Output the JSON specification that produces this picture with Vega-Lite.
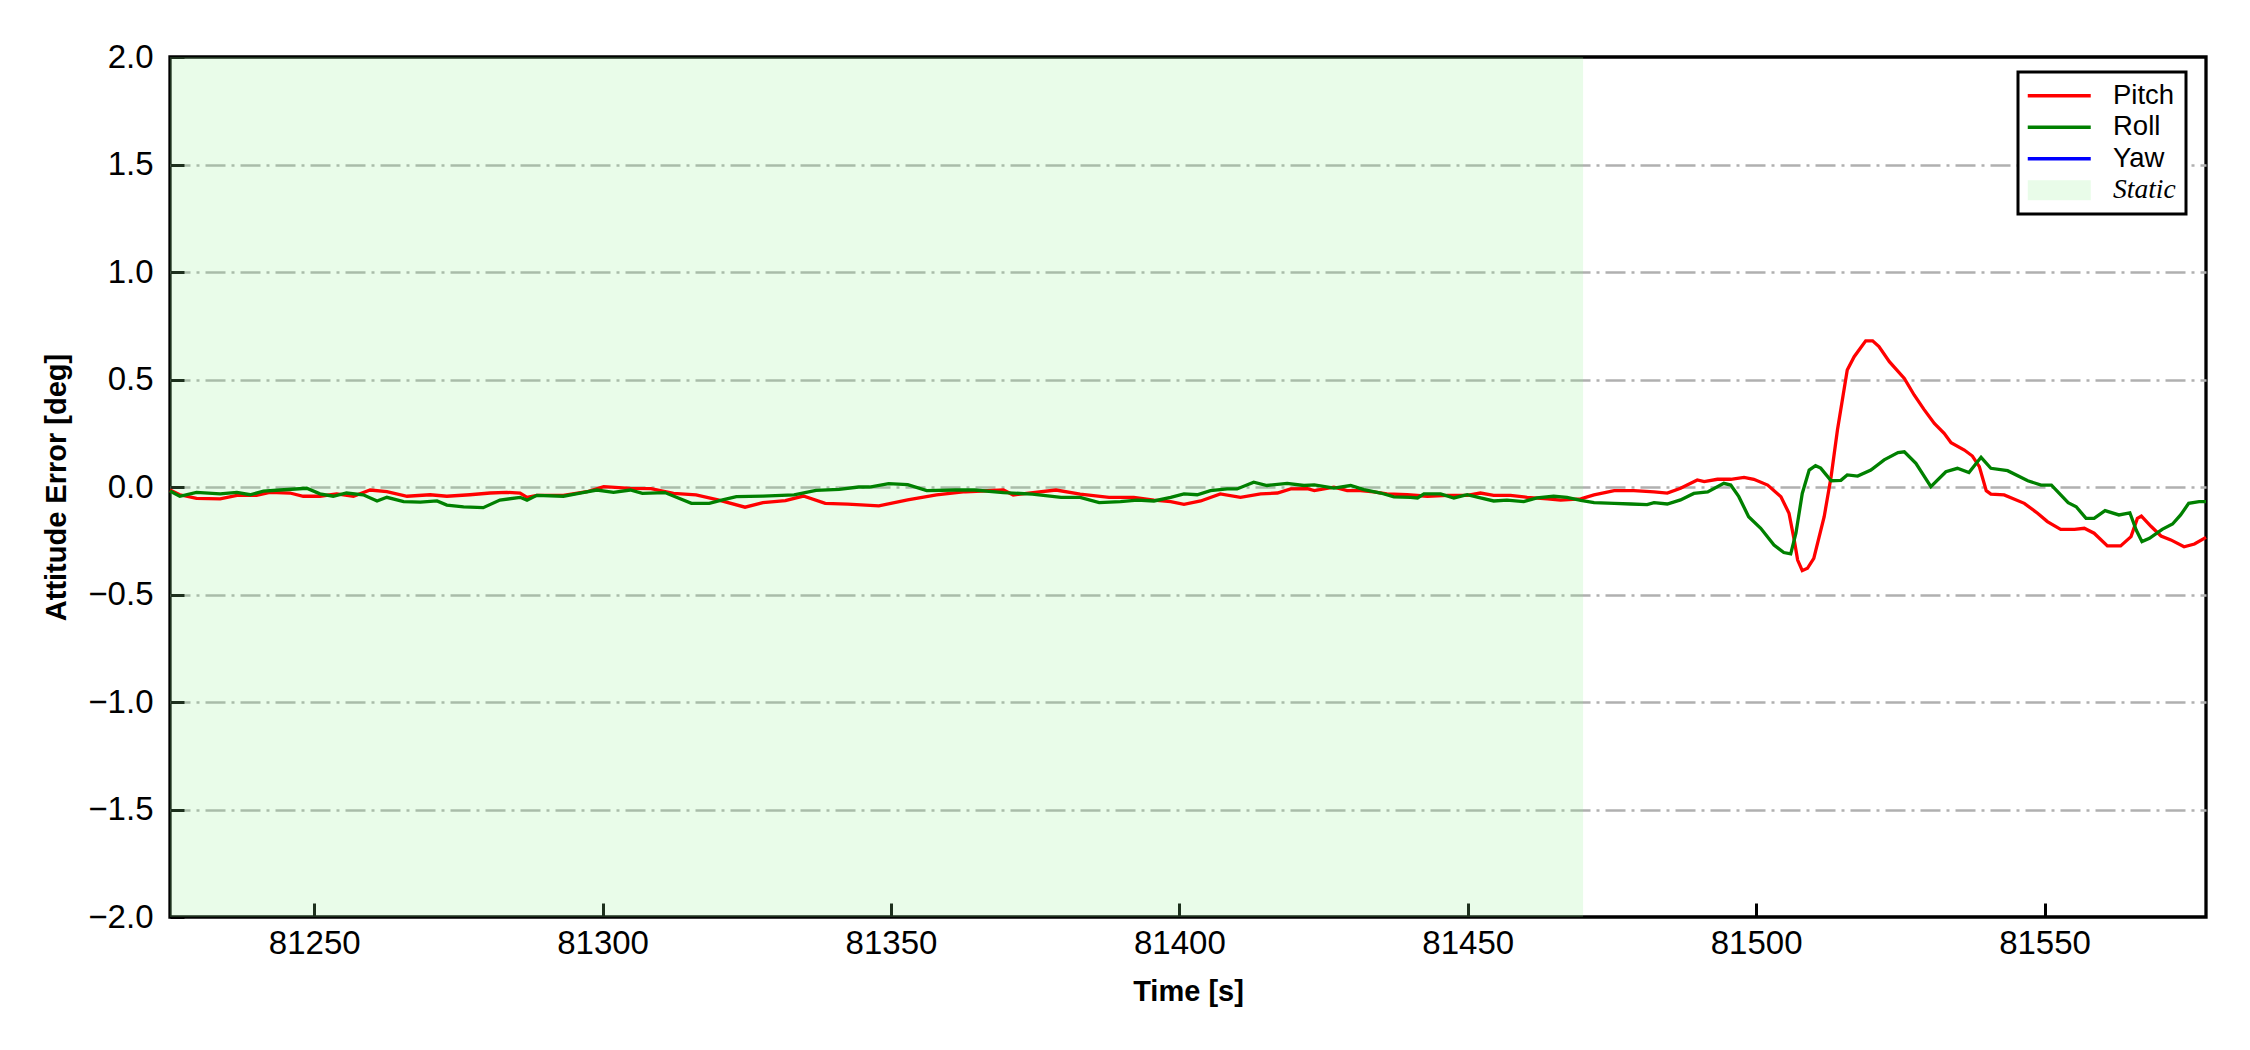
{
  "$schema": "https://vega.github.io/schema/vega-lite/v6.json",
  "width": 2036,
  "height": 860,
  "autosize": {"type": "none"},
  "padding": {"left": 170, "top": 57, "right": 44, "bottom": 133},
  "background": "white",
  "config": {
    "font": "Liberation Sans",
    "view": {"stroke": "black", "strokeWidth": 3.3}
  },
  "datasets": {
    "spans": [{"start": 81225, "end": 81470, "s": "Static"}],
    "series": [
      {"t":81225.0,"s":"Pitch","v":-0.014},{"t":81226.7,"s":"Pitch","v":-0.036},{"t":81229.6,"s":"Pitch","v":-0.053},{"t":81233.7,"s":"Pitch","v":-0.055},{"t":81236.6,"s":"Pitch","v":-0.039},{"t":81240.0,"s":"Pitch","v":-0.039},{"t":81242.3,"s":"Pitch","v":-0.025},{"t":81245.8,"s":"Pitch","v":-0.028},{"t":81248.1,"s":"Pitch","v":-0.043},{"t":81251.0,"s":"Pitch","v":-0.043},{"t":81253.9,"s":"Pitch","v":-0.032},{"t":81256.8,"s":"Pitch","v":-0.043},{"t":81259.7,"s":"Pitch","v":-0.014},{"t":81262.6,"s":"Pitch","v":-0.022},{"t":81266.1,"s":"Pitch","v":-0.043},{"t":81270.1,"s":"Pitch","v":-0.036},{"t":81273.0,"s":"Pitch","v":-0.043},{"t":81277.0,"s":"Pitch","v":-0.036},{"t":81280.5,"s":"Pitch","v":-0.028},{"t":81283.4,"s":"Pitch","v":-0.025},{"t":81285.7,"s":"Pitch","v":-0.028},{"t":81286.9,"s":"Pitch","v":-0.048},{"t":81288.6,"s":"Pitch","v":-0.039},{"t":81293.2,"s":"Pitch","v":-0.039},{"t":81297.3,"s":"Pitch","v":-0.022},{"t":81300.2,"s":"Pitch","v":0.002},{"t":81304.8,"s":"Pitch","v":-0.006},{"t":81308.4,"s":"Pitch","v":-0.008},{"t":81312.3,"s":"Pitch","v":-0.030},{"t":81316.2,"s":"Pitch","v":-0.037},{"t":81320.0,"s":"Pitch","v":-0.060},{"t":81324.7,"s":"Pitch","v":-0.094},{"t":81327.8,"s":"Pitch","v":-0.073},{"t":81331.7,"s":"Pitch","v":-0.063},{"t":81334.8,"s":"Pitch","v":-0.042},{"t":81338.6,"s":"Pitch","v":-0.076},{"t":81342.5,"s":"Pitch","v":-0.080},{"t":81347.9,"s":"Pitch","v":-0.088},{"t":81352.9,"s":"Pitch","v":-0.060},{"t":81357.9,"s":"Pitch","v":-0.037},{"t":81362.9,"s":"Pitch","v":-0.022},{"t":81369.5,"s":"Pitch","v":-0.014},{"t":81371.2,"s":"Pitch","v":-0.037},{"t":81378.6,"s":"Pitch","v":-0.014},{"t":81382.8,"s":"Pitch","v":-0.033},{"t":81387.8,"s":"Pitch","v":-0.048},{"t":81392.1,"s":"Pitch","v":-0.048},{"t":81395.6,"s":"Pitch","v":-0.061},{"t":81398.5,"s":"Pitch","v":-0.068},{"t":81400.8,"s":"Pitch","v":-0.081},{"t":81403.7,"s":"Pitch","v":-0.065},{"t":81407.1,"s":"Pitch","v":-0.032},{"t":81410.6,"s":"Pitch","v":-0.048},{"t":81414.1,"s":"Pitch","v":-0.032},{"t":81417.0,"s":"Pitch","v":-0.028},{"t":81419.3,"s":"Pitch","v":-0.009},{"t":81422.2,"s":"Pitch","v":-0.008},{"t":81423.4,"s":"Pitch","v":-0.017},{"t":81426.8,"s":"Pitch","v":-0.001},{"t":81429.1,"s":"Pitch","v":-0.017},{"t":81431.4,"s":"Pitch","v":-0.017},{"t":81433.7,"s":"Pitch","v":-0.023},{"t":81436.0,"s":"Pitch","v":-0.032},{"t":81439.5,"s":"Pitch","v":-0.036},{"t":81443.0,"s":"Pitch","v":-0.043},{"t":81446.5,"s":"Pitch","v":-0.039},{"t":81449.9,"s":"Pitch","v":-0.039},{"t":81452.2,"s":"Pitch","v":-0.028},{"t":81454.5,"s":"Pitch","v":-0.039},{"t":81457.4,"s":"Pitch","v":-0.039},{"t":81460.3,"s":"Pitch","v":-0.048},{"t":81463.8,"s":"Pitch","v":-0.055},{"t":81466.1,"s":"Pitch","v":-0.061},{"t":81469.6,"s":"Pitch","v":-0.055},{"t":81471.9,"s":"Pitch","v":-0.037},{"t":81475.4,"s":"Pitch","v":-0.017},{"t":81478.8,"s":"Pitch","v":-0.017},{"t":81482.3,"s":"Pitch","v":-0.023},{"t":81484.6,"s":"Pitch","v":-0.028},{"t":81486.9,"s":"Pitch","v":-0.006},{"t":81489.8,"s":"Pitch","v":0.033},{"t":81491.0,"s":"Pitch","v":0.025},{"t":81493.3,"s":"Pitch","v":0.036},{"t":81495.6,"s":"Pitch","v":0.036},{"t":81497.9,"s":"Pitch","v":0.045},{"t":81499.6,"s":"Pitch","v":0.036},{"t":81502.0,"s":"Pitch","v":0.009},{"t":81504.3,"s":"Pitch","v":-0.045},{"t":81505.7,"s":"Pitch","v":-0.122},{"t":81506.6,"s":"Pitch","v":-0.246},{"t":81507.2,"s":"Pitch","v":-0.340},{"t":81508.0,"s":"Pitch","v":-0.389},{"t":81508.9,"s":"Pitch","v":-0.378},{"t":81510.0,"s":"Pitch","v":-0.332},{"t":81511.8,"s":"Pitch","v":-0.138},{"t":81513.0,"s":"Pitch","v":0.048},{"t":81514.1,"s":"Pitch","v":0.265},{"t":81515.8,"s":"Pitch","v":0.544},{"t":81517.0,"s":"Pitch","v":0.606},{"t":81519.0,"s":"Pitch","v":0.680},{"t":81520.2,"s":"Pitch","v":0.680},{"t":81521.3,"s":"Pitch","v":0.653},{"t":81523.1,"s":"Pitch","v":0.583},{"t":81525.7,"s":"Pitch","v":0.505},{"t":81527.4,"s":"Pitch","v":0.428},{"t":81529.1,"s":"Pitch","v":0.361},{"t":81530.9,"s":"Pitch","v":0.296},{"t":81532.6,"s":"Pitch","v":0.250},{"t":81533.8,"s":"Pitch","v":0.206},{"t":81536.1,"s":"Pitch","v":0.172},{"t":81537.5,"s":"Pitch","v":0.144},{"t":81538.7,"s":"Pitch","v":0.095},{"t":81539.9,"s":"Pitch","v":-0.017},{"t":81540.7,"s":"Pitch","v":-0.033},{"t":81543.0,"s":"Pitch","v":-0.037},{"t":81546.5,"s":"Pitch","v":-0.076},{"t":81548.8,"s":"Pitch","v":-0.122},{"t":81550.5,"s":"Pitch","v":-0.161},{"t":81552.8,"s":"Pitch","v":-0.197},{"t":81555.2,"s":"Pitch","v":-0.197},{"t":81556.9,"s":"Pitch","v":-0.192},{"t":81558.6,"s":"Pitch","v":-0.215},{"t":81560.9,"s":"Pitch","v":-0.274},{"t":81563.2,"s":"Pitch","v":-0.274},{"t":81565.0,"s":"Pitch","v":-0.231},{"t":81566.1,"s":"Pitch","v":-0.146},{"t":81566.8,"s":"Pitch","v":-0.135},{"t":81568.5,"s":"Pitch","v":-0.184},{"t":81570.2,"s":"Pitch","v":-0.228},{"t":81571.9,"s":"Pitch","v":-0.246},{"t":81574.2,"s":"Pitch","v":-0.278},{"t":81576.0,"s":"Pitch","v":-0.265},{"t":81578.0,"s":"Pitch","v":-0.234},
      {"t":81225.0,"s":"Roll","v":-0.019},{"t":81226.7,"s":"Roll","v":-0.043},{"t":81229.6,"s":"Roll","v":-0.025},{"t":81233.7,"s":"Roll","v":-0.032},{"t":81236.6,"s":"Roll","v":-0.025},{"t":81238.9,"s":"Roll","v":-0.036},{"t":81241.2,"s":"Roll","v":-0.019},{"t":81244.1,"s":"Roll","v":-0.014},{"t":81248.7,"s":"Roll","v":-0.006},{"t":81251.0,"s":"Roll","v":-0.032},{"t":81253.3,"s":"Roll","v":-0.043},{"t":81255.6,"s":"Roll","v":-0.028},{"t":81258.5,"s":"Roll","v":-0.036},{"t":81260.9,"s":"Roll","v":-0.065},{"t":81262.6,"s":"Roll","v":-0.048},{"t":81265.5,"s":"Roll","v":-0.068},{"t":81268.4,"s":"Roll","v":-0.070},{"t":81271.3,"s":"Roll","v":-0.065},{"t":81273.0,"s":"Roll","v":-0.084},{"t":81275.9,"s":"Roll","v":-0.092},{"t":81279.3,"s":"Roll","v":-0.096},{"t":81282.2,"s":"Roll","v":-0.061},{"t":81285.7,"s":"Roll","v":-0.048},{"t":81286.9,"s":"Roll","v":-0.061},{"t":81288.6,"s":"Roll","v":-0.039},{"t":81293.2,"s":"Roll","v":-0.043},{"t":81296.1,"s":"Roll","v":-0.028},{"t":81299.0,"s":"Roll","v":-0.014},{"t":81301.9,"s":"Roll","v":-0.025},{"t":81304.8,"s":"Roll","v":-0.014},{"t":81306.9,"s":"Roll","v":-0.030},{"t":81310.8,"s":"Roll","v":-0.026},{"t":81315.4,"s":"Roll","v":-0.076},{"t":81318.5,"s":"Roll","v":-0.076},{"t":81320.8,"s":"Roll","v":-0.060},{"t":81323.2,"s":"Roll","v":-0.045},{"t":81327.8,"s":"Roll","v":-0.042},{"t":81333.2,"s":"Roll","v":-0.037},{"t":81337.0,"s":"Roll","v":-0.016},{"t":81341.0,"s":"Roll","v":-0.011},{"t":81344.4,"s":"Roll","v":0.000},{"t":81346.3,"s":"Roll","v":0.000},{"t":81349.6,"s":"Roll","v":0.016},{"t":81352.9,"s":"Roll","v":0.011},{"t":81356.2,"s":"Roll","v":-0.017},{"t":81361.2,"s":"Roll","v":-0.014},{"t":81364.5,"s":"Roll","v":-0.014},{"t":81369.5,"s":"Roll","v":-0.026},{"t":81374.5,"s":"Roll","v":-0.033},{"t":81379.5,"s":"Roll","v":-0.048},{"t":81382.8,"s":"Roll","v":-0.048},{"t":81386.1,"s":"Roll","v":-0.073},{"t":81389.8,"s":"Roll","v":-0.068},{"t":81392.7,"s":"Roll","v":-0.061},{"t":81395.6,"s":"Roll","v":-0.065},{"t":81398.5,"s":"Roll","v":-0.048},{"t":81400.8,"s":"Roll","v":-0.032},{"t":81403.1,"s":"Roll","v":-0.036},{"t":81405.4,"s":"Roll","v":-0.017},{"t":81408.3,"s":"Roll","v":-0.009},{"t":81410.0,"s":"Roll","v":-0.009},{"t":81412.9,"s":"Roll","v":0.022},{"t":81415.2,"s":"Roll","v":0.007},{"t":81418.7,"s":"Roll","v":0.017},{"t":81421.6,"s":"Roll","v":0.007},{"t":81423.4,"s":"Roll","v":0.010},{"t":81426.8,"s":"Roll","v":-0.005},{"t":81429.7,"s":"Roll","v":0.007},{"t":81432.0,"s":"Roll","v":-0.012},{"t":81434.9,"s":"Roll","v":-0.028},{"t":81437.2,"s":"Roll","v":-0.046},{"t":81440.1,"s":"Roll","v":-0.048},{"t":81441.3,"s":"Roll","v":-0.051},{"t":81442.4,"s":"Roll","v":-0.032},{"t":81445.3,"s":"Roll","v":-0.032},{"t":81447.6,"s":"Roll","v":-0.051},{"t":81449.9,"s":"Roll","v":-0.036},{"t":81452.2,"s":"Roll","v":-0.051},{"t":81454.5,"s":"Roll","v":-0.065},{"t":81456.8,"s":"Roll","v":-0.061},{"t":81459.7,"s":"Roll","v":-0.068},{"t":81462.0,"s":"Roll","v":-0.051},{"t":81464.9,"s":"Roll","v":-0.043},{"t":81467.2,"s":"Roll","v":-0.048},{"t":81469.6,"s":"Roll","v":-0.062},{"t":81471.9,"s":"Roll","v":-0.073},{"t":81475.4,"s":"Roll","v":-0.076},{"t":81478.3,"s":"Roll","v":-0.079},{"t":81481.1,"s":"Roll","v":-0.082},{"t":81482.3,"s":"Roll","v":-0.073},{"t":81484.6,"s":"Roll","v":-0.079},{"t":81486.9,"s":"Roll","v":-0.060},{"t":81489.2,"s":"Roll","v":-0.030},{"t":81491.6,"s":"Roll","v":-0.023},{"t":81494.4,"s":"Roll","v":0.017},{"t":81495.6,"s":"Roll","v":0.009},{"t":81497.0,"s":"Roll","v":-0.045},{"t":81498.7,"s":"Roll","v":-0.138},{"t":81500.8,"s":"Roll","v":-0.192},{"t":81503.1,"s":"Roll","v":-0.270},{"t":81504.8,"s":"Roll","v":-0.305},{"t":81506.0,"s":"Roll","v":-0.311},{"t":81506.9,"s":"Roll","v":-0.215},{"t":81508.0,"s":"Roll","v":-0.030},{"t":81509.2,"s":"Roll","v":0.079},{"t":81510.3,"s":"Roll","v":0.099},{"t":81511.2,"s":"Roll","v":0.088},{"t":81513.0,"s":"Roll","v":0.029},{"t":81514.7,"s":"Roll","v":0.031},{"t":81515.8,"s":"Roll","v":0.056},{"t":81517.6,"s":"Roll","v":0.051},{"t":81519.9,"s":"Roll","v":0.079},{"t":81522.2,"s":"Roll","v":0.126},{"t":81524.6,"s":"Roll","v":0.160},{"t":81525.7,"s":"Roll","v":0.164},{"t":81527.7,"s":"Roll","v":0.110},{"t":81530.3,"s":"Roll","v":0.002},{"t":81532.9,"s":"Roll","v":0.071},{"t":81534.9,"s":"Roll","v":0.087},{"t":81536.9,"s":"Roll","v":0.067},{"t":81539.0,"s":"Roll","v":0.138},{"t":81540.7,"s":"Roll","v":0.087},{"t":81543.6,"s":"Roll","v":0.076},{"t":81547.1,"s":"Roll","v":0.029},{"t":81549.4,"s":"Roll","v":0.009},{"t":81551.2,"s":"Roll","v":0.009},{"t":81554.1,"s":"Roll","v":-0.073},{"t":81555.5,"s":"Roll","v":-0.092},{"t":81557.2,"s":"Roll","v":-0.146},{"t":81558.6,"s":"Roll","v":-0.146},{"t":81560.5,"s":"Roll","v":-0.110},{"t":81562.9,"s":"Roll","v":-0.130},{"t":81564.8,"s":"Roll","v":-0.120},{"t":81565.9,"s":"Roll","v":-0.200},{"t":81566.9,"s":"Roll","v":-0.254},{"t":81568.2,"s":"Roll","v":-0.239},{"t":81570.4,"s":"Roll","v":-0.197},{"t":81572.2,"s":"Roll","v":-0.172},{"t":81573.6,"s":"Roll","v":-0.130},{"t":81575.0,"s":"Roll","v":-0.076},{"t":81576.8,"s":"Roll","v":-0.068},{"t":81578.0,"s":"Roll","v":-0.068}
    ]
  },
  "layer": [
    {
      "data": {"name": "spans"},
      "mark": {"type": "rect", "fillOpacity": 0.2},
      "encoding": {
        "x": {
          "field": "start", "type": "quantitative",
          "scale": {"domain": [81225, 81578], "nice": false, "zero": false},
          "axis": {
            "values": [81250, 81300, 81350, 81400, 81450, 81500, 81550],
            "format": "d", "grid": false, "domain": false,
            "tickSize": -14, "tickWidth": 3, "tickColor": "black",
            "labelPadding": 24, "labelFontSize": 33, "labelColor": "black", "labelFlush": false,
            "labelFont": "Liberation Sans",
            "title": "Time [s]", "titleFontSize": 29, "titleFontWeight": "bold", "titleColor": "black",
            "titleFont": "Liberation Sans", "titleBaseline": "alphabetic", "titleY": 83
          }
        },
        "x2": {"field": "end"},
        "color": {
          "field": "s", "type": "nominal",
          "scale": {"domain": ["Pitch", "Roll", "Yaw", "Static"], "range": ["#ff0000", "#008000", "#0000ff", "#90ee90"]},
          "legend": {
            "orient": "none", "legendX": 1848, "legendY": 15, "title": null,
            "padding": 10, "strokeColor": "black", "fillColor": "white",
            "symbolSize": 400, "symbolStrokeWidth": 3.3, "symbolOffset": 17.5, "labelOffset": 40,
            "labelFont": "Liberation Sans", "labelFontSize": 27.5, "labelColor": "black", "labelLimit": 400,
            "labelAlign": "left",
            "rowPadding": 2.5,
            "encode": {
              "legend": {"update": {"strokeWidth": {"value": 3}}},
              "symbols": {"update": {
                "shape": {"signal": "datum.value === 'Static' ? 'M-3.15,-1H3.15V1H-3.15Z' : 'M-3.15,0H3.15'"},
                "size": {"value": 400},
                "strokeWidth": {"value": 3.3},
                "opacity": {"value": 1},
                "fillOpacity": {"signal": "datum.value === 'Static' ? 0.2 : 0"},
                "strokeOpacity": {"signal": "datum.value === 'Static' ? 0 : 1"}
              }},
              "labels": {"update": {
                "font": {"signal": "datum.value === 'Static' ? 'Liberation Serif' : 'Liberation Sans'"},
                "fontStyle": {"signal": "datum.value === 'Static' ? 'italic' : 'normal'"},
                "align": {"value": "left"}
              }}
            }
          }
        }
      }
    },
    {
      "data": {"name": "series"},
      "mark": {"type": "line", "strokeWidth": 3.3},
      "encoding": {
        "x": {"field": "t", "type": "quantitative"},
        "y": {
          "field": "v", "type": "quantitative",
          "scale": {"domain": [-2, 2], "nice": false, "zero": false},
          "axis": {
            "values": [-2, -1.5, -1, -0.5, 0, 0.5, 1, 1.5, 2],
            "labelExpr": "replace(format(datum.value, '.1f'), '-', '−')",
            "grid": true, "gridColor": "#b0b0b0", "gridWidth": 2.5, "gridDash": [20, 6, 3, 6],
            "gridOpacity": {"condition": {"test": "abs(datum.value) >= 2", "value": 0}, "value": 1},
            "domain": false,
            "tickSize": -14, "tickWidth": 3, "tickColor": "black",
            "labelPadding": 31, "labelFontSize": 33, "labelColor": "black", "labelFont": "Liberation Sans",
            "title": "Attitude Error [deg]", "titleFontSize": 29, "titleFontWeight": "bold", "titleColor": "black",
            "titleFont": "Liberation Sans", "titleX": -114, "titleBaseline": "middle"
          }
        },
        "color": {"field": "s", "type": "nominal"}
      }
    }
  ]
}
